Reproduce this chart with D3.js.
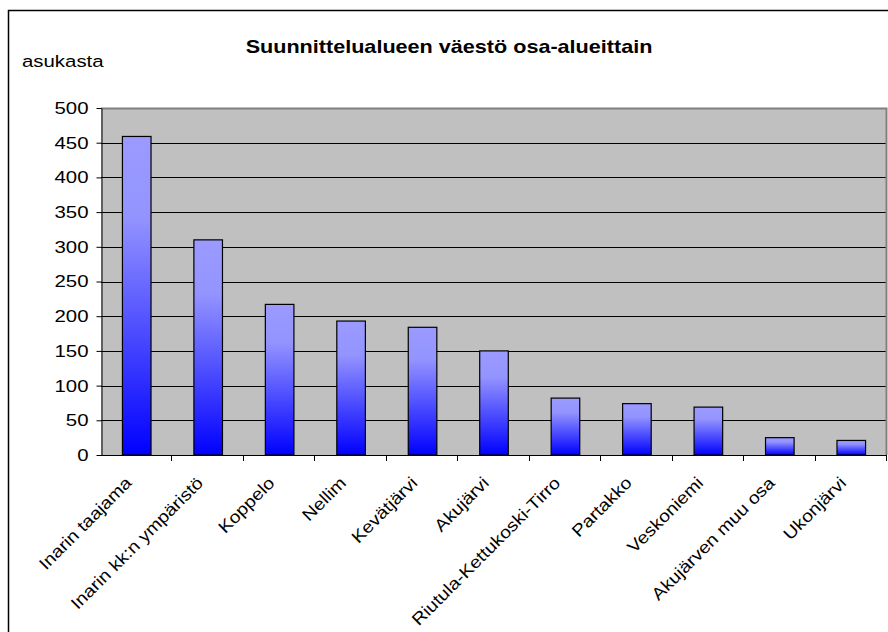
<!DOCTYPE html>
<html>
<head>
<meta charset="utf-8">
<script src="https://cdn.jsdelivr.net/npm/d3@7/dist/d3.min.js"></script>
<style>
  html, body { margin: 0; padding: 0; background: #fff; }
  svg { display: block; font-family: Arial, "Liberation Sans", sans-serif; }
</style>
</head>
<body>
<svg id="chart" width="888" height="632"></svg>
<script>
const categories = ["Inarin taajama", "Inarin kk:n ympäristö", "Koppelo", "Nellim", "Kevätjärvi", "Akujärvi",
  "Riutula-Kettukoski-Tirro", "Partakko", "Veskoniemi", "Akujärven muu osa", "Ukonjärvi"];
const values = [459, 310, 217, 193, 184, 150, 82, 74, 69, 25, 21];
const yTicks = [0, 50, 100, 150, 200, 250, 300, 350, 400, 450, 500];
const titleText = "Suunnittelualueen väestö osa-alueittain";
const yAxisTitle = "asukasta";

const svg = d3.select("#chart");
const plot = { left: 101, right: 887, top: 108, bottom: 455 };
const SX = 1.2;   // wider glyphs of the reference's horizontal text
const SXL = 1.14; // wider glyphs along the rotated labels

// outer frame
svg.append("rect").attr("x", 8.5).attr("y", 10.5).attr("width", 900).attr("height", 700)
  .attr("fill", "#fff").attr("stroke", "#000").attr("stroke-width", 1.5);

const x = d3.scaleBand().domain(categories).range([plot.left, plot.right]).paddingInner(0).paddingOuter(0);
const y = d3.scaleLinear().domain([0, 500]).range([plot.bottom, plot.top]);

// gradient
const defs = svg.append("defs");
const grad = defs.append("linearGradient").attr("id", "barGrad")
  .attr("x1", 0).attr("y1", 0).attr("x2", 0).attr("y2", 1);
grad.append("stop").attr("offset", "0%").attr("stop-color", "#9a9aff");
grad.append("stop").attr("offset", "25%").attr("stop-color", "#9494ff");
grad.append("stop").attr("offset", "100%").attr("stop-color", "#0000ff");

// plot background
svg.append("rect").attr("x", plot.left).attr("y", plot.top)
  .attr("width", plot.right - plot.left).attr("height", plot.bottom - plot.top)
  .attr("fill", "#c0c0c0");

// gridlines
svg.append("g").selectAll("line").data(yTicks.filter(d => d > 0 && d < 500)).join("line")
  .attr("x1", plot.left).attr("x2", plot.right)
  .attr("y1", d => Math.round(y(d)) + 0.5).attr("y2", d => Math.round(y(d)) + 0.5)
  .attr("stroke", "#000").attr("stroke-width", 1);

// plot border top/right (gray)
svg.append("path")
  .attr("d", `M${plot.left},${plot.top + 0.5}H${plot.right - 0.5}V${plot.bottom}`)
  .attr("fill", "none").attr("stroke", "#808080").attr("stroke-width", 2);

// bars
const bw = x.bandwidth() * 0.4;
svg.append("g").selectAll("rect").data(values).join("rect")
  .attr("x", (d, i) => x(categories[i]) + (x.bandwidth() - bw) / 2)
  .attr("y", d => y(d))
  .attr("width", bw)
  .attr("height", d => plot.bottom - y(d))
  .attr("fill", "url(#barGrad)")
  .attr("stroke", "#000").attr("stroke-width", 1.2);

// y axis
const yAxis = d3.axisLeft(y).tickValues(yTicks).tickSize(5).tickPadding(7).tickSizeOuter(0);
const gy = svg.append("g").attr("transform", `translate(${plot.left + 0.5},0)`).call(yAxis);
gy.select(".domain").attr("stroke", "#000");
gy.selectAll(".tick line").attr("stroke", "#000");
gy.selectAll(".tick text")
  .attr("x", 0)
  .attr("transform", `translate(-13,0) scale(${SX},1)`)
  .attr("font-size", 17).attr("fill", "#000")
  .attr("font-family", "Arial, 'Liberation Sans', sans-serif");

// x axis line and ticks at band boundaries
svg.append("line").attr("x1", plot.left).attr("x2", plot.right)
  .attr("y1", plot.bottom + 0.5).attr("y2", plot.bottom + 0.5).attr("stroke", "#000");
const bounds = categories.map(c => x(c)).concat([plot.right]);
svg.append("g").selectAll("line").data(bounds.slice(1)).join("line")
  .attr("x1", d => Math.round(d) - 0.5).attr("x2", d => Math.round(d) - 0.5)
  .attr("y1", plot.bottom).attr("y2", plot.bottom + 6)
  .attr("stroke", "#000");

// x labels
svg.append("g").selectAll("text").data(categories).join("text")
  .attr("transform", d => `translate(${x(d) + x.bandwidth() / 2 - 4},${plot.bottom + 29}) rotate(-45) scale(${SXL},1)`)
  .attr("text-anchor", "end")
  .attr("font-size", 17)
  .attr("fill", "#000")
  .text(d => d);

// titles
svg.append("text").attr("transform", `translate(449,53) scale(${SX},1)`).attr("text-anchor", "middle")
  .attr("font-size", 18).attr("font-weight", "bold").text(titleText);
svg.append("text").attr("transform", `translate(22,67) scale(${SX},1)`).attr("font-size", 17).text(yAxisTitle);
</script>
</body>
</html>
